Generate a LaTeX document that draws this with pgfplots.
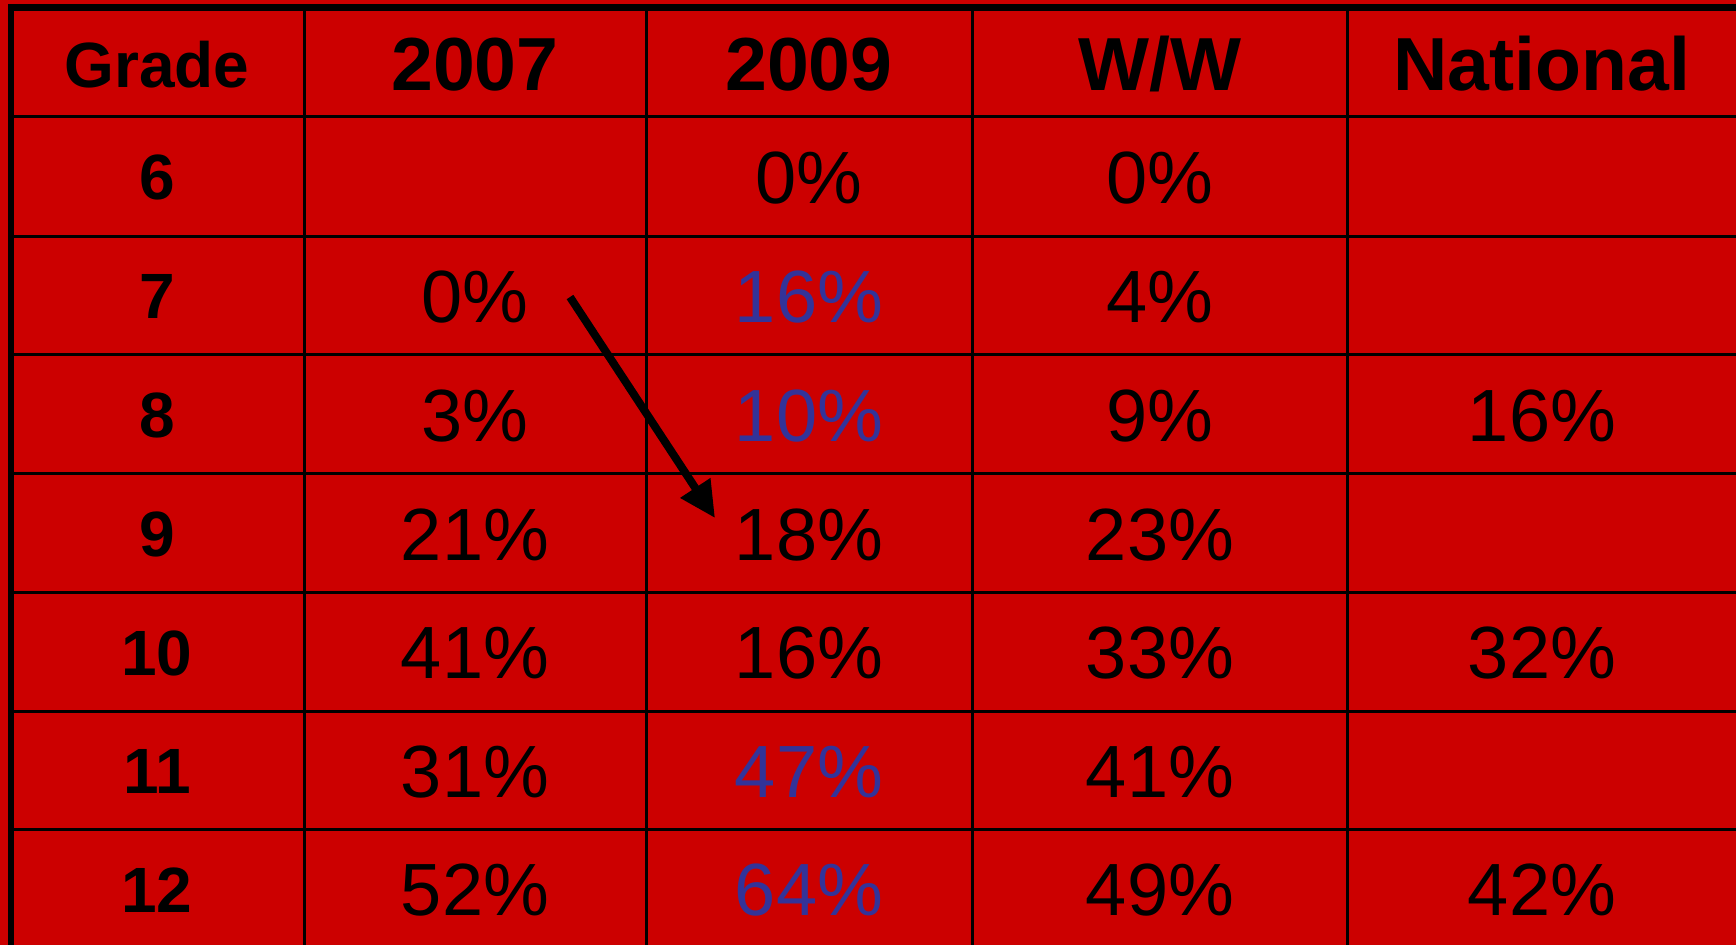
\documentclass[border=0pt]{standalone}
\usepackage{pgfplots}
\pgfplotsset{compat=1.18}
\usetikzlibrary{arrows.meta}
\usepackage{fontspec}
\setmainfont{Liberation Sans}
\definecolor{bgred}{HTML}{CC0000}
\definecolor{valblue}{HTML}{333399}
\begin{document}
\begin{tikzpicture}
\begin{axis}[
  at={(0,0)}, anchor=south west,
  scale only axis, width=434bp, height=236.25bp,
  xmin=0, xmax=1736, ymin=0, ymax=945, y dir=reverse,
  axis line style={draw=none}, ticks=none,
  axis background/.style={fill=bgred},
  unbounded coords=jump,
  txt/.style={draw=none, mark=none, nodes near coords, point meta=explicit symbolic,
    every node near coord/.append style={anchor=base, inner sep=0pt, outer sep=0pt, #1}},
]
% inner grid lines
\addplot[black, line width=0.75bp] coordinates {
 (304,7.5) (304,945) (nan,nan)
 (646.5,7.5) (646.5,945) (nan,nan)
 (972,7.5) (972,945) (nan,nan)
 (1347.5,7.5) (1347.5,945) (nan,nan)
 (11,116.5) (1736,116.5) (nan,nan)
 (11,236) (1736,236) (nan,nan)
 (11,354.5) (1736,354.5) (nan,nan)
 (11,473) (1736,473) (nan,nan)
 (11,592) (1736,592) (nan,nan)
 (11,711) (1736,711) (nan,nan)
 (11,829) (1736,829)
};
% outer border
\addplot[black, line width=1.6bp, line join=miter] coordinates {(11,950) (11,7.5) (1740,7.5)};
% header
\addplot[txt={font=\fontsize{16bp}{19bp}\selectfont\bfseries, text=black}] coordinates {(157,87) [Grade]};
\addplot[txt={font=\fontsize{18.8bp}{23bp}\selectfont\bfseries, text=black}] coordinates {
 (475,90) [2007] (809,90) [2009] (1160,90) [W/W] (1542,90) [National]};
% grade column
\addplot[txt={font=\fontsize{16bp}{19bp}\selectfont\bfseries, text=black}] coordinates {
 (157,199) [6] (157,318) [7] (157,437) [8] (157,556) [9] (157,675) [10] (157,793) [11] (157,912) [12]};
% values black
\addplot[txt={font=\fontsize{18.5bp}{23bp}\selectfont, text=black}] coordinates {
 (475,322) [0\%] (475,441) [3\%] (475,560) [21\%] (475,678) [41\%] (475,797) [31\%] (475,915) [52\%]
 (809,203) [0\%] (809,560) [18\%] (809,678) [16\%]
 (1160,203) [0\%] (1160,322) [4\%] (1160,441) [9\%] (1160,560) [23\%] (1160,678) [33\%] (1160,797) [41\%] (1160,915) [49\%]
 (1542,441) [16\%] (1542,678) [32\%] (1542,915) [42\%]};
% values blue
\addplot[txt={font=\fontsize{18.5bp}{23bp}\selectfont, text=valblue}] coordinates {
 (809,322) [16\%] (809,441) [10\%] (809,797) [47\%] (809,915) [64\%]};
% arrow
\addplot[black, line width=2bp, -{Triangle[length=9bp, width=8.5bp]}] coordinates {(570,297) (715,518)};
\end{axis}
\pgfresetboundingbox
\useasboundingbox (0,0) rectangle (434bp,236.25bp);
\end{tikzpicture}
\end{document}
